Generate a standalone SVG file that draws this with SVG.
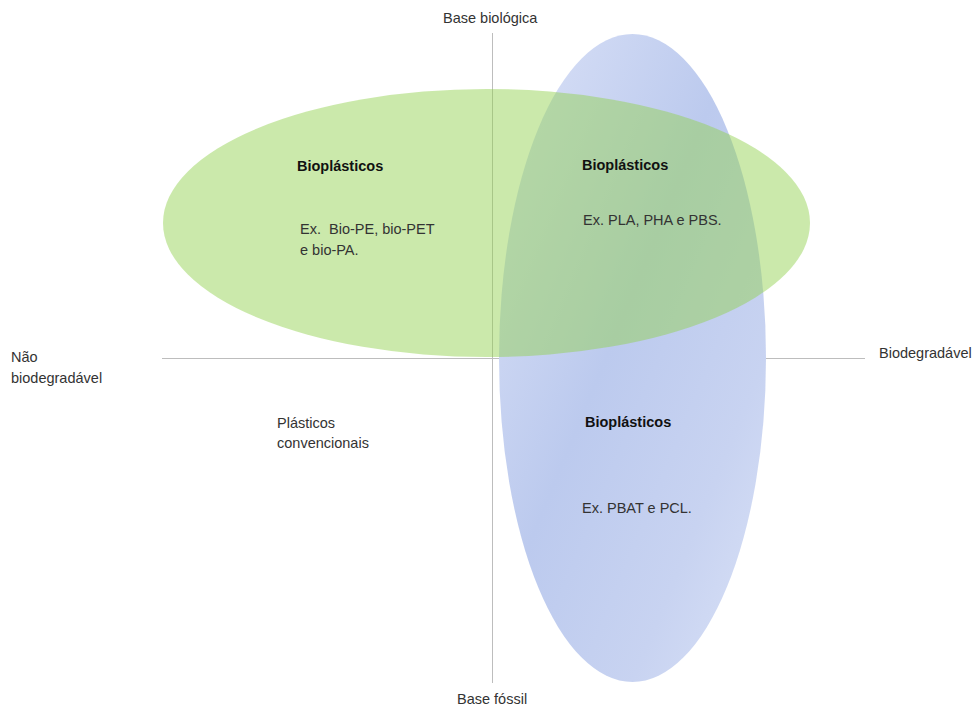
<svg xmlns="http://www.w3.org/2000/svg" width="979" height="709" viewBox="0 0 979 709">
<style>
.axis{stroke:#bdbdbd;stroke-width:1;fill:none}
.t{font-family:"Liberation Sans",Arial,sans-serif;font-size:14.5px;fill:#333333}
.b{font-family:"Liberation Sans",Arial,sans-serif;font-size:14.5px;font-weight:bold;fill:#111111}
</style>
<defs>
<linearGradient id="blueGrad" x1="0" y1="0" x2="1" y2="1" gradientUnits="objectBoundingBox">
<stop offset="0" stop-color="#dbe2f7"/>
<stop offset="0.45" stop-color="#bccaee"/>
<stop offset="0.75" stop-color="#c8d3f1"/>
<stop offset="1" stop-color="#dae2f7"/>
</linearGradient>
</defs>
<rect width="979" height="709" fill="#ffffff"/>
<g id="connectors">
<line class="axis" x1="492.5" y1="33" x2="492.5" y2="683"/>
<line class="axis" x1="162" y1="358.5" x2="865" y2="358.5"/>
</g>
<g id="blue-ellipse">
<ellipse cx="632.5" cy="358" rx="133.5" ry="324" fill="url(#blueGrad)"/>
</g>
<g id="green-ellipse">
<ellipse cx="486.5" cy="223" rx="323.5" ry="134" fill="#92d050" fill-opacity="0.48"/>
</g>
<g id="label-top"><text class="t" x="443" y="23">Base biológica</text></g>
<g id="label-bottom"><text class="t" x="457" y="704">Base fóssil</text></g>
<g id="label-left"><text class="t" x="11" y="362">Não</text><text class="t" x="11" y="383">biodegradável</text></g>
<g id="label-right"><text class="t" x="879" y="358">Biodegradável</text></g>
<g id="node-bio-nonbio">
<text class="b" x="297" y="171">Bioplásticos</text>
<text class="t" x="300" y="234" xml:space="preserve">Ex.  Bio-PE, bio-PET</text>
<text class="t" x="300" y="255">e bio-PA.</text>
</g>
<g id="node-bio-bio">
<text class="b" x="582" y="170">Bioplásticos</text>
<text class="t" x="583" y="225">Ex. PLA, PHA e PBS.</text>
</g>
<g id="node-fossil-bio">
<text class="b" x="585" y="427">Bioplásticos</text>
<text class="t" x="582" y="513">Ex. PBAT e PCL.</text>
</g>
<g id="node-conventional">
<text class="t" x="277" y="428">Plásticos</text>
<text class="t" x="277" y="448">convencionais</text>
</g>
</svg>
